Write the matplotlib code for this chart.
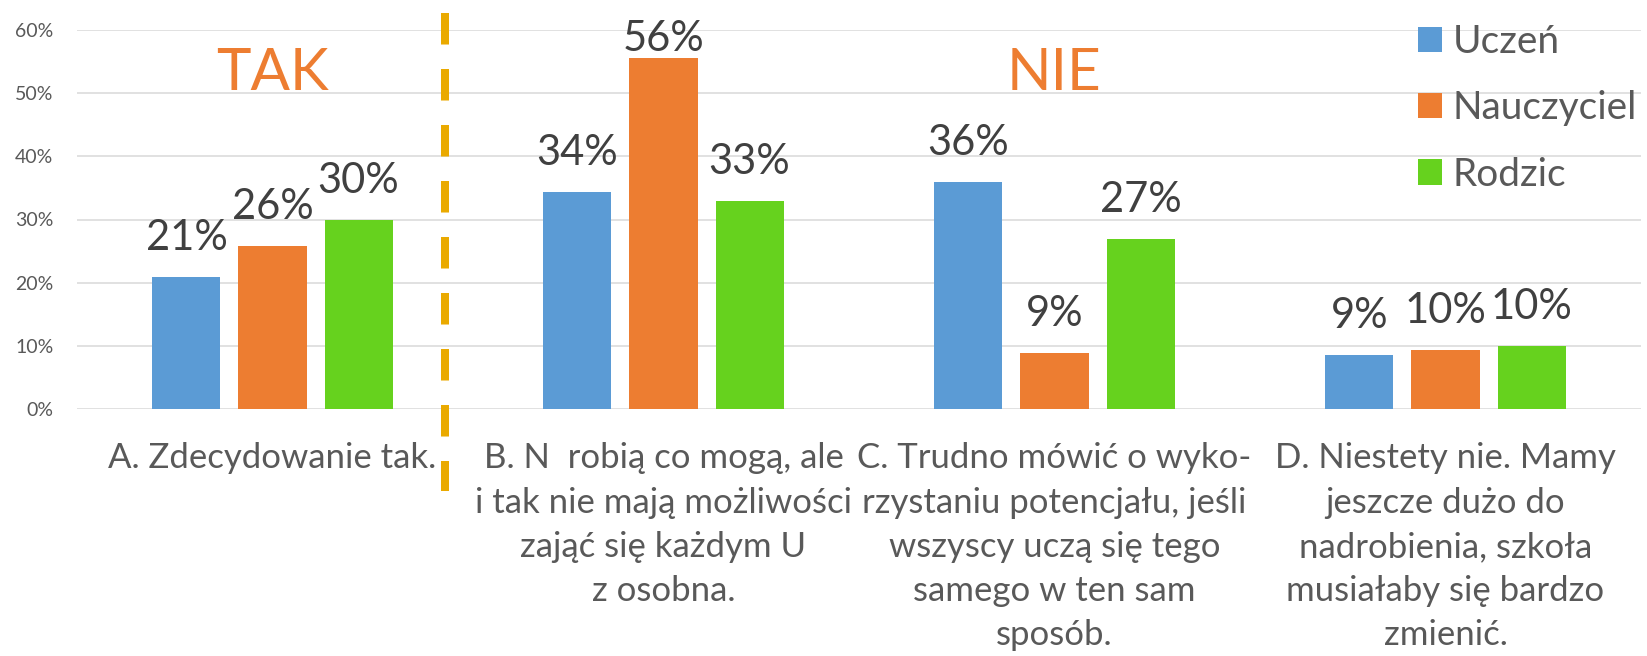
import matplotlib
matplotlib.use("Agg")
import matplotlib.pyplot as plt
import numpy as np
from matplotlib.patches import Patch

plt.rcParams['font.family'] = ['Lato', 'DejaVu Sans']

categories = [
    "A. Zdecydowanie tak.",
    "B. N  robią co mogą, ale\ni tak nie mają możliwości\nzająć się każdym U\nz osobna.",
    "C. Trudno mówić o wyko-\nrzystaniu potencjału, jeśli\nwszyscy uczą się tego\nsamego w ten sam\nsposób.",
    "D. Niestety nie. Mamy\njeszcze dużo do\nnadrobienia, szkoła\nmusiałaby się bardzo\nzmienić.",
]
series_names = ["Uczeń", "Nauczyciel", "Rodzic"]
uczen = [20.9, 34.3, 36.0, 8.5]
nauczyciel = [25.8, 55.5, 8.9, 9.4]
rodzic = [29.9, 32.9, 26.9, 9.9]
uczen_labels = ["21%", "34%", "36%", "9%"]
nauczyciel_labels = ["26%", "56%", "9%", "10%"]
rodzic_labels = ["30%", "33%", "27%", "10%"]
yticks = [0, 10, 20, 30, 40, 50, 60]
group_texts = ["TAK", "NIE"]

colors = ["#5B9BD5", "#ED7D31", "#66D21E"]
W, H = 1647, 656
fig = plt.figure(figsize=(W / 100, H / 100), dpi=100)
ax = fig.add_axes([77 / W, 1 - 409 / H, (1641 - 77) / W, (409 - 30) / H])

ax.set_xlim(-0.5, len(categories) - 0.5)
ax.set_ylim(0, 60)

x = np.arange(len(categories))
bw = 0.174
step = 0.22
label_gap = 4.27     # gap between bar top and label baseline (data units)
label_max = 56.7     # labels are kept inside the chart area
all_vals = [uczen, nauczyciel, rodzic]
all_labels = [uczen_labels, nauczyciel_labels, rodzic_labels]
for i, (vals, labs, c) in enumerate(zip(all_vals, all_labels, colors)):
    xs = x + (i - 1) * step
    ax.bar(xs, vals, width=bw, color=c, zorder=3)
    for xi, v, lab in zip(xs, vals, labs):
        ax.text(xi, min(v + label_gap, label_max), lab,
                ha='center', va='baseline', fontsize=30, color='#404040', zorder=4)

ax.set_yticks(yticks)
ax.set_yticklabels([f"{t}%" for t in yticks])
ax.yaxis.grid(True, color='#D9D9D9', linewidth=1.1, zorder=0)
ax.set_axisbelow(True)
for s in ax.spines.values():
    s.set_visible(False)
ax.tick_params(axis='y', length=0, pad=17, labelsize=14, labelcolor='#595959')
ax.set_xticks(x)
ax.set_xticklabels(categories, fontsize=25, color='#595959', linespacing=1.47, va='top')
ax.tick_params(axis='x', length=0, pad=24)

# group headers
ax.text(x[0], 50.5, group_texts[0], ha='center', va='baseline', fontsize=42, color='#ED7D31')
ax.text(x[2], 50.5, group_texts[1], ha='center', va='baseline', fontsize=42, color='#ED7D31')

# dashed separator
sep = 0.44
ax.plot([sep, sep], [62.7, -13.0], color='#EAAA00', linewidth=5.76,
        dashes=(3.94, 3.06), solid_capstyle='butt', dash_capstyle='butt', clip_on=False, zorder=5)

handles = [Patch(facecolor=c, edgecolor='none') for c in colors]
leg = fig.legend(handles, series_names, loc='upper left', bbox_to_anchor=(1418 / W, 1 - 24 / H),
                 frameon=False, fontsize=28, handlelength=0.62, handleheight=0.62,
                 handletextpad=0.28, labelspacing=0.78, borderaxespad=0, borderpad=0)
for t in leg.get_texts():
    t.set_color('#595959')

fig.savefig("out.png", dpi=100)
